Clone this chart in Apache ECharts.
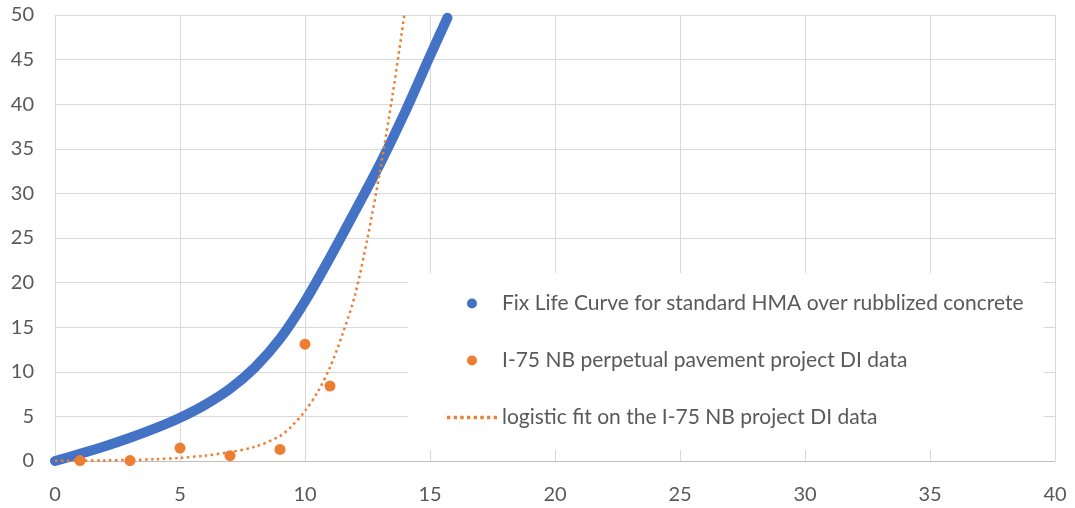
<!DOCTYPE html>
<html><head><meta charset="utf-8">
<script src="https://cdn.jsdelivr.net/npm/echarts@6/dist/echarts.min.js"></script>
<style>html,body{margin:0;padding:0;background:#fff}#c{width:1075px;height:508px}</style>
</head><body><div id="c"></div>
<script>
// Fix life curve
const blueX = [0,1,2,3,4,5,6,7,8,9,10,11,12,13,14,15,15.7];
const blueY = [0,0.8,1.65,2.6,3.65,4.85,6.3,8.1,10.5,13.7,17.9,22.8,28.0,33.3,39.1,45.4,49.7];
// I-75 NB observed DI
const obsX = [1,3,5,7,9,10,11];
const obsY = [0.05,0.05,1.45,0.6,1.3,13.1,8.4];
// logistic fit
const fitX = [0,1,2,3,4,5,6,7,8,9,9.5,10,10.5,11,11.5,12,12.5,13,13.5,14];
const fitY = [0.02,0.04,0.07,0.12,0.2,0.35,0.6,1.0,1.6,2.8,4.0,5.6,7.7,10.5,14.2,18.6,25,32.5,41,50.5];
const names = ['Fix Life Curve for standard HMA over rubblized concrete','I-75 NB perpetual pavement project DI data','logistic fit on the I-75 NB project DI data'];

const zip = (a,b)=>a.map((v,i)=>[v,b[i]]);
const FONT = 'Lato';
const dotted = 'path://' + [0,6,12,18,24,30,36,42].map(x=>'M'+x+',0h3v3h-3z').join(' ');
const chart = echarts.init(document.getElementById('c'));
chart.setOption({
  animation:false,
  textStyle:{fontFamily:FONT},
  grid:{left:55,right:20,top:15,bottom:47},
  xAxis:{type:'value',min:0,max:40,interval:5,
    axisLine:{lineStyle:{color:'#bfbfbf',width:1}},axisTick:{show:false},
    axisLabel:{color:'#595959',fontSize:20,fontFamily:FONT,margin:24},
    splitLine:{show:true,lineStyle:{color:'#d9d9d9',width:1}}},
  yAxis:{type:'value',min:0,max:50,interval:5,
    axisLine:{show:false},axisTick:{show:false},
    axisLabel:{color:'#595959',fontSize:20,fontFamily:FONT,margin:21},
    splitLine:{show:true,lineStyle:{color:'#d9d9d9',width:1}}},
  legend:{orient:'vertical',left:408,top:273,
    padding:[18,20,20,39],backgroundColor:'#fff',
    itemWidth:50,itemHeight:10,itemGap:32,
    textStyle:{color:'#595959',fontSize:21,fontFamily:FONT,lineHeight:25},
    data:[{name:names[0],icon:'circle'},{name:names[1],icon:'circle'},{name:names[2],icon:dotted}]},
  series:[
    {name:names[0],type:'line',data:zip(blueX,blueY),smooth:0.3,
      showSymbol:false,symbol:'circle',
      itemStyle:{color:'#4472C4'},
      lineStyle:{color:'#4472C4',width:10,cap:'round',join:'round'},z:2},
    {name:names[1],type:'scatter',data:zip(obsX,obsY),symbol:'circle',symbolSize:11,
      itemStyle:{color:'#ED7D31',opacity:1},z:3},
    {name:names[2],type:'line',data:zip(fitX,fitY),smooth:0.3,
      showSymbol:false,symbol:'none',clip:true,
      itemStyle:{color:'#ED7D31'},
      lineStyle:{color:'#ED7D31',width:2.5,type:[2.5,3.5]},z:4}
  ]
});
</script></body></html>
